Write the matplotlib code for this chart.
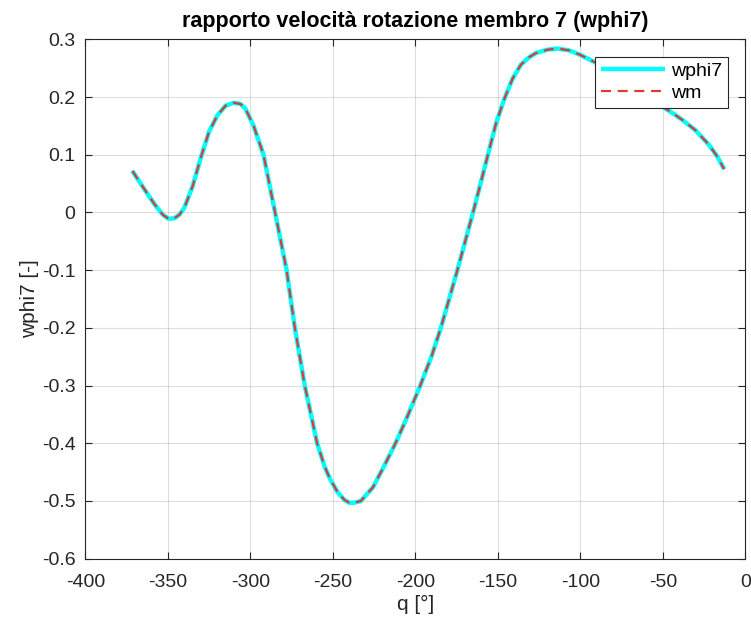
import matplotlib
matplotlib.use("Agg")
import matplotlib.pyplot as plt

# --- valori ---
q = [-371.5, -366, -362.5, -358, -353, -349.5, -346, -343, -340, -335,
     -330, -325, -320, -315, -310, -306, -303, -298, -292, -285,
     -278, -273, -267, -259.5, -255, -251.5, -247, -243, -240, -237,
     -233, -225.6, -219, -212, -205, -197, -190, -184.5, -174.5, -165,
     -160, -156, -151, -146, -141, -136, -131, -127, -120, -114,
     -107, -100, -93, -86, -78, -70, -60, -50, -44, -38, -30, -22, -17, -12.8]
wphi7 = [0.072, 0.048, 0.033, 0.014, -0.004, -0.011, -0.010, -0.004, 0.008, 0.045,
         0.095, 0.140, 0.168, 0.185, 0.190, 0.188, 0.180, 0.150, 0.100, 0.000,
         -0.100, -0.200, -0.300, -0.400, -0.440, -0.463, -0.485, -0.498, -0.503, -0.503,
         -0.500, -0.476, -0.440, -0.400, -0.355, -0.300, -0.248, -0.200, -0.100, 0.000,
         0.055, 0.100, 0.155, 0.197, 0.232, 0.256, 0.269, 0.276, 0.282, 0.284,
         0.281, 0.273, 0.263, 0.2525, 0.238, 0.224, 0.205, 0.183, 0.172, 0.160, 0.142, 0.117, 0.097, 0.075]
wm = list(wphi7)

plt.rcParams['font.family'] = ['Liberation Sans', 'DejaVu Sans']

fig = plt.figure(figsize=(7.51, 6.26), dpi=100)
ax = fig.add_axes([0.1136, 0.1075, 0.8788, 0.8297])

ax.plot(q, wphi7, color="#00ffff", lw=3.2, label="wphi7", solid_capstyle="butt")
ax.plot(q, wm, color="#d93b3b", lw=1.6, ls=(0, (4.5, 3)), label="wm")

ax.set_xlim(-400, 0)
ax.set_ylim(-0.6, 0.3)
ax.set_xticks(range(-400, 1, 50))
ax.set_yticks([-0.6, -0.5, -0.4, -0.3, -0.2, -0.1, 0, 0.1, 0.2, 0.3])
ax.set_yticklabels(["-0.6", "-0.5", "-0.4", "-0.3", "-0.2", "-0.1", "0", "0.1", "0.2", "0.3"])
ax.set_xticklabels([str(v) for v in range(-400, 1, 50)])

ax.grid(True, color="#262626", alpha=0.15, lw=0.8)
ax.tick_params(direction="in", top=True, right=True, length=5, width=0.8,
               colors="#262626", labelsize=14)
ax.tick_params(axis="x", pad=11)
ax.tick_params(axis="y", pad=7)
for s in ax.spines.values():
    s.set_color("#262626")
    s.set_linewidth(0.8)

ax.set_title("rapporto velocità rotazione membro 7 (wphi7)", fontsize=15.5,
             fontweight="bold", pad=9)
ax.set_xlabel("q [°]", fontsize=15, color="#262626", labelpad=3)
ax.set_ylabel("wphi7 [-]", fontsize=15, color="#262626", labelpad=2)

leg = ax.legend(loc="upper right", fontsize=14, handlelength=3.3,
                fancybox=False, framealpha=1, edgecolor="#262626",
                borderaxespad=0.9, borderpad=0.3, labelspacing=0.2,
                handletextpad=0.3)
leg.get_frame().set_linewidth(0.8)

fig.savefig("out.png", dpi=100)
